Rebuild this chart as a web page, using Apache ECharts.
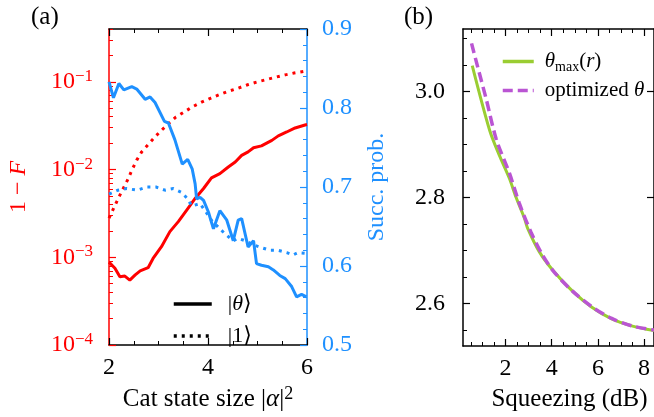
<!DOCTYPE html>
<html>
<head>
<meta charset="utf-8">
<script src="https://cdn.jsdelivr.net/npm/echarts@6/dist/echarts.min.js"></script>
<style>
  html, body { margin: 0; padding: 0; background: #fff; }
  #chart { width: 654px; height: 417px; }
</style>
</head>
<body>
<div id="chart"></div>
<script>
// (a) infidelity 1-F, |theta> state (red solid)
const thetaInfX = [2.0, 2.12, 2.22, 2.32, 2.42, 2.53, 2.63, 2.79, 2.89, 3.06, 3.23, 3.40, 3.57, 3.74, 3.91, 4.07, 4.24, 4.41, 4.55, 4.68, 4.81, 4.92, 5.08, 5.29, 5.42, 5.59, 5.76, 5.96, 6.0];
const thetaInf = [8.8e-4, 7.5e-4, 6.0e-4, 6.1e-4, 5.5e-4, 6.3e-4, 7.0e-4, 7.6e-4, 9.7e-4, 1.32e-3, 1.96e-3, 2.55e-3, 3.45e-3, 4.68e-3, 6.08e-3, 8.05e-3, 9.0e-3, 1.07e-2, 1.22e-2, 1.45e-2, 1.59e-2, 1.77e-2, 1.86e-2, 2.15e-2, 2.42e-2, 2.68e-2, 2.98e-2, 3.22e-2, 3.26e-2];
// (a) infidelity, |1> state (red dotted)
const oneInfX = [2.0, 2.12, 2.22, 2.39, 2.46, 2.56, 2.66, 2.79, 2.93, 3.06, 3.20, 3.35, 3.52, 3.68, 3.87, 4.06, 4.24, 4.42, 4.61, 4.80, 4.98, 5.18, 5.37, 5.56, 5.74, 5.95, 6.0];
const oneInf = [0.0028, 0.0039, 0.0051, 0.0079, 0.0098, 0.0128, 0.0159, 0.0192, 0.0236, 0.028, 0.0333, 0.0397, 0.0453, 0.0517, 0.0587, 0.0653, 0.0718, 0.0783, 0.0847, 0.0925, 0.0993, 0.106, 0.113, 0.120, 0.126, 0.132, 0.133];
// (a) success probability, |theta> (blue solid)
const thetaProbX = [2.0, 2.09, 2.2, 2.3, 2.46, 2.56, 2.73, 2.83, 2.93, 3.12, 3.2, 3.33, 3.48, 3.59, 3.68, 3.74, 3.77, 3.84, 3.91, 4.01, 4.11, 4.24, 4.38, 4.51, 4.61, 4.68, 4.81, 4.92, 4.98, 5.08, 5.22, 5.32, 5.45, 5.56, 5.69, 5.79, 5.89, 5.99];
const thetaProb = [0.833, 0.813, 0.831, 0.823, 0.827, 0.824, 0.811, 0.814, 0.807, 0.783, 0.781, 0.760, 0.729, 0.735, 0.723, 0.704, 0.685, 0.687, 0.683, 0.668, 0.647, 0.670, 0.658, 0.632, 0.658, 0.660, 0.624, 0.632, 0.603, 0.601, 0.599, 0.595, 0.588, 0.584, 0.574, 0.561, 0.564, 0.561];
// (a) success probability, |1> (blue dotted)
const oneProbX = [2.0, 2.18, 2.36, 2.57, 2.76, 2.95, 3.13, 3.30, 3.47, 3.59, 3.67, 3.84, 3.94, 4.07, 4.24, 4.34, 4.51, 4.61, 4.75, 4.95, 5.09, 5.25, 5.41, 5.59, 5.72, 5.82, 6.0];
const oneProb = [0.691, 0.696, 0.698, 0.696, 0.700, 0.700, 0.696, 0.698, 0.693, 0.685, 0.676, 0.679, 0.670, 0.658, 0.647, 0.641, 0.632, 0.635, 0.632, 0.626, 0.623, 0.620, 0.620, 0.617, 0.614, 0.617, 0.616];

// (b) theta vs squeezing
const thMaxX = [0.56, 1.32, 1.74, 2.17, 2.46, 2.82, 2.96, 3.46, 4.03, 4.89, 5.74, 6.6, 7.46, 8.43];
const thMax = [3.049, 2.926, 2.879, 2.836, 2.800, 2.761, 2.742, 2.698, 2.664, 2.624, 2.593, 2.571, 2.558, 2.549];
const thOptX = [0.53, 0.75, 1.17, 1.6, 2.17, 2.6, 3.1, 3.6, 4.1, 4.89, 5.74, 6.6, 7.46, 8.43];
const thOpt = [3.091, 3.054, 2.985, 2.91, 2.846, 2.789, 2.735, 2.692, 2.66, 2.624, 2.594, 2.572, 2.558, 2.55];

// ticks
const logMajor = [1e-4, 1e-3, 1e-2, 1e-1];
const logMinor = [];
[1e-4, 1e-3, 1e-2, 1e-1].forEach(d => { for (let k = 2; k <= 9; k++) logMinor.push(d * k); });
const bMajorX = [2, 4, 6, 8];
const bMinorX = [0.5, 1, 1.5, 2.5, 3, 3.5, 4.5, 5, 5.5, 6.5, 7, 7.5];
const bMajorY = [2.6, 2.8, 3.0];
const bMinorY = [2.55, 2.65, 2.7, 2.75, 2.85, 2.9, 2.95, 3.05, 3.1];

const FONT = "'Liberation Serif', 'DejaVu Serif', serif";
const RED = '#ff0000', BLUE = '#1e90ff', GREEN = '#9acd32', PURPLE = '#ba55d3';

const zip = (xs, ys) => xs.map((x, i) => [x, ys[i]]);

function richFor(color, size) {
  return {
    n: { fontFamily: FONT, fontSize: size, color: color, lineHeight: size + 4 },
    i: { fontFamily: FONT, fontSize: size, color: color, fontStyle: 'italic', lineHeight: size + 4 },
    s: { fontFamily: FONT, fontSize: Math.round(size * 0.7), color: color, verticalAlign: 'top' },
    sub: { fontFamily: FONT, fontSize: Math.round(size * 0.65), color: color, verticalAlign: 'bottom' }
  };
}

function baseAxis(color, extra) {
  return Object.assign({
    type: 'value',
    axisLine: { onZero: false, lineStyle: { color: color, width: 1.5 } },
    axisTick: { inside: true, length: 7, lineStyle: { color: color, width: 1.2 } },
    axisLabel: { color: color, fontSize: 24, fontFamily: FONT },
    splitLine: { show: false }
  }, extra);
}

const chart = echarts.init(document.getElementById('chart'));
const option = {
  backgroundColor: '#fff',
  animation: false,
  title: [
    { text: '(a)', left: 31, top: 5, padding: 0, textStyle: { fontFamily: FONT, fontWeight: 'normal', fontSize: 25, color: '#000' } },
    { text: '(b)', left: 404, top: 5, padding: 0, textStyle: { fontFamily: FONT, fontWeight: 'normal', fontSize: 25, color: '#000' } }
  ],
  grid: [
    { left: 109, top: 29, width: 198, height: 318 },
    { left: 463, top: 29, width: 193, height: 318 }
  ],
  legend: [
    {
      data: ['theta', 'one'], orient: 'vertical', left: 167, top: 288,
      itemWidth: 38, itemHeight: 20, itemGap: 10, selectedMode: false,
      itemStyle: { opacity: 0 },
      lineStyle: { width: 3.5 },
      formatter: name => name === 'theta' ? '{n||}{i|θ}{n|⟩}' : '{n||1⟩}',
      textStyle: { fontFamily: FONT, fontSize: 22, color: '#000', padding: [0, 0, 0, 11], rich: richFor('#000', 22) }
    },
    {
      data: ['thmax', 'opt'], orient: 'vertical', left: 496, top: 46,
      itemWidth: 31, itemHeight: 20, itemGap: 6, selectedMode: false,
      itemStyle: { opacity: 0 },
      lineStyle: { width: 3.5 },
      formatter: name => name === 'thmax' ? '{i|θ}{sub|max}{n|(}{i|r}{n|)}' : '{n|optimized }{i|θ}',
      textStyle: { fontFamily: FONT, fontSize: 21, color: '#000', padding: [0, 0, 0, 6], rich: richFor('#000', 21) }
    }
  ],
  xAxis: [
    baseAxis('#000', {
      gridIndex: 0, position: 'bottom', min: 2, max: 6, interval: 2,
      minorTick: { show: true, splitNumber: 4, length: 4, lineStyle: { color: '#000', width: 1 } },
      axisLabel: { color: '#000', fontSize: 24, fontFamily: FONT, margin: 11 },
      name: '{n|Cat state size |}{i|α}{n||}{s|2}', nameLocation: 'middle', nameGap: 40,
      nameTextStyle: { rich: richFor('#000', 25) }
    }),
    baseAxis('#000', {
      gridIndex: 0, position: 'top', min: 2, max: 6, interval: 2,
      minorTick: { show: true, splitNumber: 4, length: 4, lineStyle: { color: '#000', width: 1 } },
      axisLabel: { show: false }
    }),
    baseAxis('#000', {
      gridIndex: 1, position: 'bottom', min: 0.16, max: 8.43,
      axisTick: { inside: true, length: 7, customValues: bMajorX, lineStyle: { color: '#000', width: 1.2 } },
      axisLabel: { color: '#000', fontSize: 24, fontFamily: FONT, margin: 11, customValues: bMajorX },
      name: 'Squeezing (dB)', nameLocation: 'middle', nameGap: 41,
      nameTextStyle: { fontFamily: FONT, fontSize: 25, color: '#000', padding: [0, 0, 0, 22] }
    }),
    baseAxis('#000', {
      gridIndex: 1, position: 'bottom', min: 0.16, max: 8.43,
      axisLine: { show: false, onZero: false },
      axisTick: { inside: true, length: 4, customValues: bMinorX, lineStyle: { color: '#000', width: 1 } },
      axisLabel: { show: false }
    }),
    baseAxis('#000', {
      gridIndex: 1, position: 'top', min: 0.16, max: 8.43,
      axisTick: { inside: true, length: 7, customValues: bMajorX, lineStyle: { color: '#000', width: 1.2 } },
      axisLabel: { show: false }
    }),
    baseAxis('#000', {
      gridIndex: 1, position: 'top', min: 0.16, max: 8.43,
      axisLine: { show: false, onZero: false },
      axisTick: { inside: true, length: 4, customValues: bMinorX, lineStyle: { color: '#000', width: 1 } },
      axisLabel: { show: false }
    })
  ],
  yAxis: [
    baseAxis(RED, {
      gridIndex: 0, type: 'log', logBase: 10, position: 'left', min: 1e-4, max: 0.4,
      axisTick: { inside: true, length: 7, customValues: logMajor, lineStyle: { color: RED, width: 1.2 } },
      axisLabel: {
        customValues: logMajor, margin: 16,
        formatter: v => '{n|10}{s|−' + Math.abs(Math.round(Math.log10(v))) + '}',
        rich: richFor(RED, 24)
      },
      name: '{n|1 − }{i|F}', nameLocation: 'middle', nameRotate: 90, nameGap: 76,
      nameTextStyle: { rich: richFor(RED, 24) }
    }),
    baseAxis(RED, {
      gridIndex: 0, type: 'log', logBase: 10, position: 'left', min: 1e-4, max: 0.4,
      axisLine: { show: false, onZero: false },
      axisTick: { inside: true, length: 4, customValues: logMinor, lineStyle: { color: RED, width: 1 } },
      axisLabel: { show: false }
    }),
    baseAxis(BLUE, {
      gridIndex: 0, position: 'right', min: 0.5, max: 0.9, interval: 0.1,
      minorTick: { show: true, splitNumber: 5, length: 4, lineStyle: { color: BLUE, width: 1 } },
      axisLabel: { color: BLUE, fontSize: 24, fontFamily: FONT, margin: 15, formatter: v => v.toFixed(1) },
      name: 'Succ. prob.', nameLocation: 'middle', nameRotate: 90, nameGap: 58,
      nameTextStyle: { fontFamily: FONT, fontSize: 24, color: BLUE }
    }),
    baseAxis('#000', {
      gridIndex: 1, position: 'left', min: 2.52, max: 3.118,
      axisTick: { inside: true, length: 7, customValues: bMajorY, lineStyle: { color: '#000', width: 1.2 } },
      axisLabel: { color: '#000', fontSize: 24, fontFamily: FONT, margin: 18, customValues: bMajorY, formatter: v => v.toFixed(1) }
    }),
    baseAxis('#000', {
      gridIndex: 1, position: 'left', min: 2.52, max: 3.118,
      axisLine: { show: false, onZero: false },
      axisTick: { inside: true, length: 4, customValues: bMinorY, lineStyle: { color: '#000', width: 1 } },
      axisLabel: { show: false }
    }),
    baseAxis('#000', {
      gridIndex: 1, position: 'right', min: 2.52, max: 3.118,
      axisTick: { inside: true, length: 7, customValues: bMajorY, lineStyle: { color: '#000', width: 1.2 } },
      axisLabel: { show: false }
    })
  ],
  series: [
    { name: 'oneInf', type: 'line', xAxisIndex: 0, yAxisIndex: 0, symbol: 'none', data: zip(oneInfX, oneInf),
      lineStyle: { color: RED, width: 3, type: [3, 5] } },
    { name: 'thetaInf', type: 'line', xAxisIndex: 0, yAxisIndex: 0, symbol: 'none', data: zip(thetaInfX, thetaInf),
      lineStyle: { color: RED, width: 3 } },
    { name: 'oneProb', type: 'line', xAxisIndex: 0, yAxisIndex: 2, symbol: 'none', data: zip(oneProbX, oneProb),
      lineStyle: { color: BLUE, width: 3, type: [3, 5] } },
    { name: 'thetaProb', type: 'line', xAxisIndex: 0, yAxisIndex: 2, symbol: 'none', data: zip(thetaProbX, thetaProb),
      lineStyle: { color: BLUE, width: 3 } },
    // legend proxies for (a)
    { name: 'theta', type: 'line', xAxisIndex: 0, yAxisIndex: 2, symbol: 'none', data: [],
      itemStyle: { color: '#000' }, lineStyle: { color: '#000', width: 3 } },
    { name: 'one', type: 'line', xAxisIndex: 0, yAxisIndex: 2, symbol: 'none', data: [],
      itemStyle: { color: '#000' }, lineStyle: { color: '#000', width: 3, type: [3, 5] } },
    // (b)
    { name: 'thmax', type: 'line', xAxisIndex: 2, yAxisIndex: 3, symbol: 'none', smooth: 0.3, data: zip(thMaxX, thMax),
      itemStyle: { color: GREEN }, lineStyle: { color: GREEN, width: 3 } },
    { name: 'opt', type: 'line', xAxisIndex: 2, yAxisIndex: 3, symbol: 'none', smooth: 0.3, data: zip(thOptX, thOpt),
      itemStyle: { color: PURPLE }, lineStyle: { color: PURPLE, width: 3.5, type: [10, 5] } }
  ]
};
chart.setOption(option);
</script>
</body>
</html>
